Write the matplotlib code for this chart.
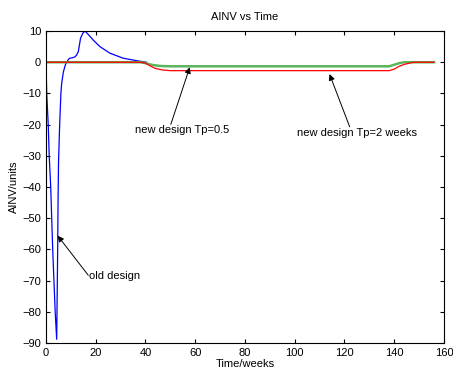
import matplotlib.pyplot as plt

plt.rcParams['font.family'] = ['Liberation Sans', 'DejaVu Sans']

# old design
t_old = [0, 0.3, 0.9, 1.3, 1.9, 2.3, 2.7, 3.2, 3.7, 4.3, 4.5, 4.7, 4.85, 5.05, 5.5, 6.0,
         6.3, 7.0, 7.8, 8.5, 9.0, 9.6, 10.5, 11.6, 12.3, 13.0, 13.9, 14.8, 15.7, 17.0,
         19.0, 21.7, 25.7, 31.0, 36.4, 40.4]
y_old = [0, -10, -20, -30, -40, -50, -60, -70, -80, -88.8, -75, -60, -45, -32, -20, -10,
         -6.8, -3.1, -0.8, 0.2, 0.9, 1.3, 1.4, 1.7, 2.3, 3.4, 7.7, 9.3, 10, 8.9,
         7.1, 5.0, 2.9, 1.3, 0.5, 0]

# new design Tp=0.5
t_new05 = [0, 38, 40, 43, 46, 50, 138, 140, 142, 144, 156]
y_new05 = [0, 0, -0.3, -0.9, -1.2, -1.3, -1.3, -0.8, -0.3, 0, 0]

# new design Tp=2 weeks
t_new2 = [0, 38, 40, 42, 44, 47, 50, 138, 140, 142, 144, 146, 148, 156]
y_new2 = [0, 0, -0.3, -1.2, -2, -2.5, -2.7, -2.7, -2.2, -1.3, -0.7, -0.3, 0, 0]

fig = plt.figure(figsize=(4.53, 3.74), dpi=100)
ax = fig.add_axes([0.1015, 0.083, 0.8785, 0.834])

ax.plot(t_old, y_old, color='#0000ff', lw=0.9)
ax.plot(t_new05, y_new05, color='#5cb45c', lw=1.8)
ax.plot(t_new2, y_new2, color='#ff0000', lw=0.9)

ax.set_xlim(0, 160)
ax.set_ylim(-90, 10)
ax.set_xticks(range(0, 161, 20))
ax.set_yticks(range(-90, 11, 10))
ax.tick_params(direction='in', top=True, right=True, labelsize=8, length=3, width=0.8)
for s in ax.spines.values():
    s.set_linewidth(0.8)

ax.set_title('AINV vs Time', fontsize=8, pad=8)
ax.set_xlabel('Time/weeks', fontsize=8, labelpad=1)
ax.set_ylabel('AINV/units', fontsize=8, labelpad=2)

arrow = dict(arrowstyle='-|>', color='k', lw=0.7, mutation_scale=9, shrinkA=0, shrinkB=0)
ax.annotate('', xy=(57.8, -1.6), xytext=(50.2, -19.9), arrowprops=arrow)
ax.annotate('', xy=(114, -3.8), xytext=(122.1, -20.7), arrowprops=arrow)
ax.annotate('', xy=(4.7, -55.6), xytext=(17, -68.3), arrowprops=arrow)

ax.text(35.7, -21.8, 'new design Tp=0.5', fontsize=8, va='center', ha='left')
ax.text(100.8, -22.8, 'new design Tp=2 weeks', fontsize=8, va='center', ha='left')
ax.text(17.3, -68.6, 'old design', fontsize=8, va='center', ha='left')

plt.savefig('out.png', dpi=100)
